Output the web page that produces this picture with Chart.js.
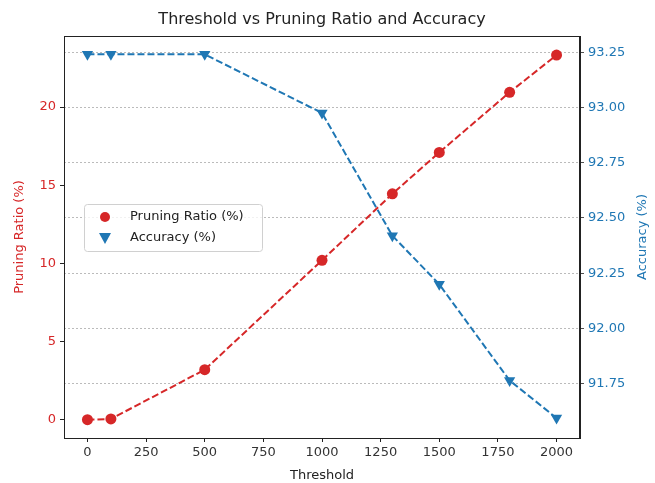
<!DOCTYPE html>
<html>
<head>
<meta charset="utf-8">
<script src="https://cdn.jsdelivr.net/npm/chart.js@4/dist/chart.umd.min.js"></script>
<style>
  html, body { margin: 0; padding: 0; background: #fff; }
  #wrap { width: 655px; height: 483px; }
</style>
</head>
<body>
<div id="wrap"><canvas id="myChart"></canvas></div>
<script>
const thresholds = [0, 100, 500, 1000, 1300, 1500, 1800, 2000];
const pruningRatio = [0, 0.05, 3.2, 10.2, 14.45, 17.1, 20.95, 23.33];
const accuracy = [93.24, 93.24, 93.24, 92.975, 92.42, 92.2, 91.765, 91.595];
const xTicks = [0, 250, 500, 750, 1000, 1250, 1500, 1750, 2000];
const leftTicks = [0, 5, 10, 15, 20];
const rightTicks = [91.75, 92.0, 92.25, 92.5, 92.75, 93.0, 93.25];

const RED = "#d62728";
const BLUE = "#1f77b4";
const FONT = "'DejaVu Sans', sans-serif";
Chart.defaults.font.family = FONT;
Chart.defaults.font.size = 13;
Chart.defaults.color = "#333";

const frameAndLegend = {
  id: "frameAndLegend",
  afterDraw(chart) {
    const { ctx, chartArea: a } = chart;
    ctx.save();
    ctx.strokeStyle = "#222";
    ctx.lineWidth = 1;
    ctx.strokeRect(a.left + 0.5, a.top + 0.5, a.right - a.left - 1, a.bottom - a.top);

    // title
    ctx.fillStyle = "#222";
    ctx.font = "16px " + FONT;
    ctx.textAlign = "center";
    ctx.textBaseline = "middle";
    ctx.fillText("Threshold vs Pruning Ratio and Accuracy", (a.left + a.right) / 2, 20);

    // y axis titles, both read bottom to top
    const midY = (a.top + a.bottom) / 2;
    ctx.font = "13px " + FONT;
    ctx.save();
    ctx.translate(20, midY);
    ctx.rotate(-Math.PI / 2);
    ctx.fillStyle = RED;
    ctx.fillText("Pruning Ratio (%)", 0, 0);
    ctx.restore();
    ctx.save();
    ctx.translate(643, midY);
    ctx.rotate(-Math.PI / 2);
    ctx.fillStyle = BLUE;
    ctx.fillText("Accuracy (%)", 0, 0);
    ctx.restore();

    // legend box
    const lx = 84, ly = 204, lw = 178, lh = 47;
    ctx.fillStyle = "rgba(255,255,255,0.8)";
    ctx.strokeStyle = "#d0d0d0";
    ctx.beginPath();
    ctx.roundRect(lx + 0.5, ly + 0.5, lw, lh, 3);
    ctx.fill();
    ctx.stroke();

    ctx.textAlign = "left";
    ctx.fillStyle = "#222";
    ctx.fillText("Pruning Ratio (%)", 130, 217);
    ctx.fillText("Accuracy (%)", 130, 238);

    ctx.fillStyle = RED;
    ctx.beginPath();
    ctx.arc(105, 217, 5, 0, Math.PI * 2);
    ctx.fill();

    ctx.fillStyle = BLUE;
    ctx.beginPath();
    ctx.moveTo(99, 233);
    ctx.lineTo(111, 233);
    ctx.lineTo(105, 244);
    ctx.closePath();
    ctx.fill();
    ctx.restore();
  }
};

const ctx = document.getElementById("myChart").getContext("2d");
new Chart(ctx, {
  type: "line",
  data: {
    datasets: [
      {
        label: "Pruning Ratio (%)",
        data: thresholds.map((t, i) => ({ x: t, y: pruningRatio[i] })),
        yAxisID: "y",
        borderColor: RED,
        backgroundColor: RED,
        borderWidth: 2,
        borderDash: [7, 3],
        pointStyle: "circle",
        pointRadius: 5.5,
        pointBorderWidth: 0,
        tension: 0
      },
      {
        label: "Accuracy (%)",
        data: thresholds.map((t, i) => ({ x: t, y: accuracy[i] })),
        yAxisID: "y1",
        borderColor: BLUE,
        backgroundColor: BLUE,
        borderWidth: 2,
        borderDash: [7, 3],
        pointStyle: "triangle",
        rotation: 180,
        pointRadius: 6.5,
        pointBorderWidth: 0,
        tension: 0
      }
    ]
  },
  options: {
    responsive: true,
    maintainAspectRatio: false,
    animation: false,
    layout: { padding: { top: 36, left: 0, right: 0, bottom: 0 } },
    plugins: {
      legend: { display: false },
      tooltip: { enabled: false },
      title: { display: false }
    },
    scales: {
      x: {
        type: "linear",
        min: -100,
        max: 2100,
        afterBuildTicks: (s) => { s.ticks = xTicks.map((v) => ({ value: v })); },
        afterFit: (s) => { s.height = 45; },
        grid: { drawOnChartArea: false, tickLength: 4, color: "#222" },
        border: { color: "#222" },
        ticks: { color: "#333", padding: 3, maxRotation: 0, callback: (v) => String(v) },
        title: { display: true, text: "Threshold", color: "#222", padding: { top: 2, bottom: 0 } }
      },
      y: {
        type: "linear",
        position: "left",
        min: -1.17,
        max: 24.55,
        afterBuildTicks: (s) => { s.ticks = leftTicks.map((v) => ({ value: v })); },
        afterFit: (s) => { s.width = 64; },
        grid: { drawOnChartArea: false, tickLength: 4, color: "#222" },
        border: { color: "#222" },
        ticks: { color: RED, padding: 4 }
      },
      y1: {
        type: "linear",
        position: "right",
        min: 91.505,
        max: 93.323,
        afterBuildTicks: (s) => { s.ticks = rightTicks.map((v) => ({ value: v })); },
        afterFit: (s) => { s.width = 75; },
        grid: { drawOnChartArea: true, tickLength: 4, color: "#aaa", tickColor: "#222", lineWidth: 0.8 },
        border: { color: "#222", dash: [2, 2] },
        ticks: { color: BLUE, padding: 4, callback: (v) => Number(v).toFixed(2) }
      }
    }
  },
  plugins: [frameAndLegend]
});
</script>
</body>
</html>
